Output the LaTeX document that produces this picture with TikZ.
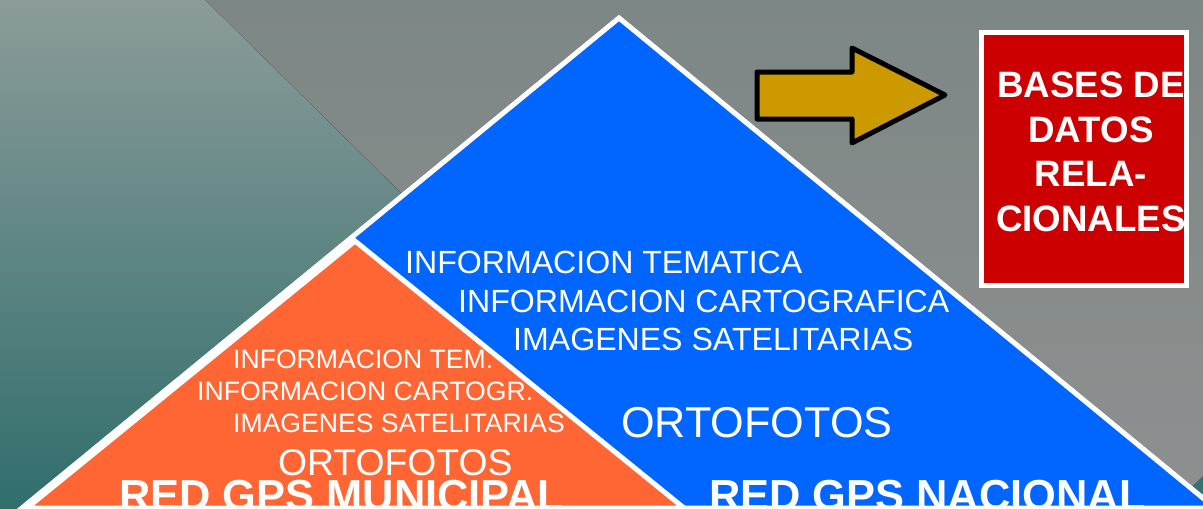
\documentclass[tikz,border=0pt]{standalone}
\usepackage{fontspec}
\setmainfont{Liberation Sans}

\definecolor{tealtop}{HTML}{8B9C9A}
\definecolor{tealbot}{HTML}{306E6C}
\definecolor{graytop}{HTML}{7D8785}
\definecolor{graybot}{HTML}{8E9090}
\definecolor{nacblue}{HTML}{0066FF}
\definecolor{munorange}{HTML}{FF6633}
\definecolor{dbred}{HTML}{CC0000}
\definecolor{arrowgold}{HTML}{CC9900}

\tikzset{
  level/.style={draw=white, line width=5pt, line join=miter},
  lbl/.style={text=white, inner sep=0pt, anchor=base west},
  nacinfo/.style={lbl, font=\fontsize{32.1}{38}\selectfont},
  muninfo/.style={lbl, font=\fontsize{26.6}{32}\selectfont},
  gpsname/.style={lbl, font=\fontsize{43.4}{50}\selectfont\bfseries},
}

\begin{document}
\begin{tikzpicture}[x=1pt, y=-1pt]
      \useasboundingbox (0,0) rectangle (1203,509);
      \clip (0,0) rectangle (1203,509);

      \fill[top color=graytop, bottom color=graybot] (0,0) rectangle (1203,509);
      \fill[top color=tealtop, bottom color=tealbot] (0,0) -- (205,0) -- (722,509) -- (0,509) -- cycle;
      \fill[tealbot!90!graybot] (1203,476) -- (1203,509) -- (1168,509) -- cycle;

      \filldraw[level, fill=nacblue] (22,508) -- (619,18) -- (1215,508) -- cycle;
      \filldraw[level, fill=munorange] (27,508) -- (355,241) -- (684,508) -- cycle;

      \node[nacinfo] (nactem) at (405,273) {INFORMACION TEMATICA};
      \node[nacinfo] (naccart) at (458,312) {INFORMACION CARTOGRAFICA};
      \node[nacinfo] (nacsat) at (513,350) {IMAGENES SATELITARIAS};
      \node[lbl, font=\fontsize{43.2}{50}\selectfont] (nacorto) at (621,437) {ORTOFOTOS};
      \node[gpsname] (nacgps) at (709,510) {RED GPS NACIONAL};

      \node[muninfo] (muntem) at (233,368) {INFORMACION TEM.};
      \node[muninfo] (muncart) at (197,400) {INFORMACION CARTOGR.};
      \node[muninfo] (munsat) at (233,432) {IMAGENES SATELITARIAS};
      \node[lbl, font=\fontsize{37.3}{44}\selectfont] (munorto) at (278,475) {ORTOFOTOS};
      \node[gpsname] (mungps) at (119,510) {RED GPS MUNICIPAL};

      \filldraw[fill=arrowgold, draw=black, line width=5pt, line join=round]
        (757,72) -- (852,72) -- (852,48) -- (945,95) -- (852,143) -- (852,119) -- (757,119) -- cycle;

      \node[draw=white, line width=5pt, fill=dbred, minimum width=205pt, minimum height=253pt] (bdbox) at (1084,159) {};
      \node[text=white, inner sep=0pt, align=center, font=\fontsize{36.7}{44.5}\selectfont\bfseries] (bdtext) at (1091,152) {BASES DE\\DATOS\\RELA-\\CIONALES};
    \end{tikzpicture}
\end{document}
